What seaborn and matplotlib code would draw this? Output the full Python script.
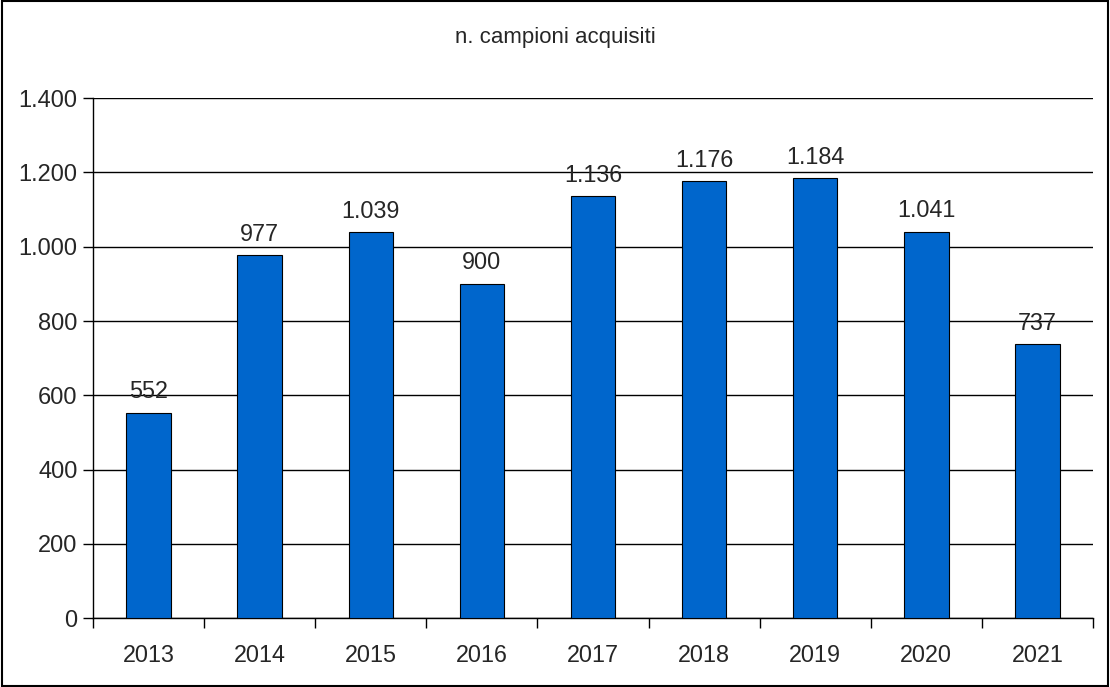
import matplotlib
matplotlib.use('Agg')
import matplotlib.pyplot as plt
import seaborn as sns
import numpy as np
import pandas as pd
from matplotlib.ticker import FuncFormatter, FixedLocator

years = ['2013', '2014', '2015', '2016', '2017', '2018', '2019', '2020', '2021']
campioni = [552, 977, 1039, 900, 1136, 1176, 1184, 1041, 737]

df = pd.DataFrame({'anno': years, 'campioni': campioni})

sns.set_style('white')
plt.rcParams['font.family'] = ['Liberation Sans', 'DejaVu Sans']


def it_fmt(v, pos=None):
    return f'{int(round(v)):,}'.replace(',', '.')


fig = plt.figure(figsize=(11.1, 6.87), dpi=100)
ax = fig.add_axes([0.0838, 0.1004, 0.9009, 0.7566])

sns.barplot(data=df, x='anno', y='campioni', color='#0066CC', saturation=1,
            width=0.4, edgecolor='black', linewidth=0.8, ax=ax, zorder=3)

ax.set_ylim(0, 1400)
ax.set_xlim(-0.5, len(years) - 0.5)
ax.set_yticks(np.arange(0, 1401, 200))
ax.yaxis.set_major_formatter(FuncFormatter(it_fmt))
ax.grid(axis='y', color='black', linewidth=1, zorder=0)
ax.set_axisbelow(True)

ax.xaxis.set_minor_locator(FixedLocator(np.arange(-0.5, len(years), 1)))
ax.tick_params(axis='x', which='major', length=0, pad=19, labelsize=16.8)
ax.tick_params(axis='x', which='minor', length=7, width=1, color='black', direction='out')
ax.tick_params(axis='y', length=7, width=1, color='black', direction='out', labelsize=17, pad=4)
ax.tick_params(bottom=True, left=True, which='both')

for side in ['top', 'right']:
    ax.spines[side].set_visible(False)
for side in ['left', 'bottom']:
    ax.spines[side].set_color('black')
    ax.spines[side].set_linewidth(1)

ax.set_xlabel('')
ax.set_ylabel('')

for c in ax.containers:
    ax.bar_label(c, labels=[it_fmt(v) for v in campioni], padding=7, fontsize=16.8)

fig.text(0.5, 0.945, 'n. campioni acquisiti', ha='center', va='center', fontsize=16)

fig.patches.append(plt.Rectangle((0.002, 0.002), 0.996, 0.996, transform=fig.transFigure,
                                 fill=False, edgecolor='black', linewidth=1.5))

fig.savefig('out.png', dpi=100)
